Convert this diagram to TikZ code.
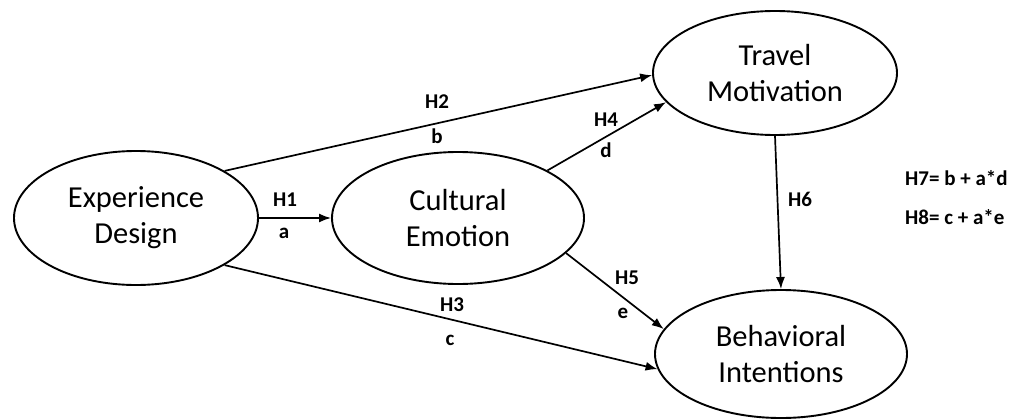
\documentclass[tikz,border=0pt]{standalone}
\usepackage{fontspec}
\setmainfont{Carlito}
\usetikzlibrary{shapes.geometric,arrows.meta}
\begin{document}
\begin{tikzpicture}[x=1pt,y=-1pt,
  construct/.style={ellipse,draw,line width=1.9pt,inner sep=0pt,
    minimum width=#1,align=center,font=\fontsize{30.5}{36}\selectfont},
  construct/.default=246pt,
  path/.style={line width=1.7pt,-{Latex[length=12pt,width=9pt]}},
  lbl/.style={font=\fontsize{21}{25}\selectfont\bfseries,inner sep=0pt}]
\useasboundingbox (0,0) rectangle (1022,420);

% latent constructs
\node[construct=244pt,minimum height=134pt] (exp) at (136,218) {Experience\\Design};
\node[construct=252pt,minimum height=132pt] (ce)  at (458,218) {Cultural\\Emotion};
\node[construct=244pt,minimum height=124pt] (tm)  at (775,73)  {Travel\\Motivation};
\node[construct=252pt,minimum height=128pt] (bi)  at (781,354) {Behavioral\\Intentions};

% hypothesised paths
\draw[path] (exp.east) -- (ce.west);
\draw[path] (exp.28)   -- (tm.181);
\draw[path] (exp.332)  -- (bi.187);
\draw[path] (ce.28)    -- (tm.195);
\draw[path] (ce.342)   -- (bi.168);
\draw[path] (tm.south) -- (bi.north);

% path labels
\node[lbl] (h1) at (285,200) {H1};
\node[lbl] (la) at (284,233) {a};
\node[lbl] (h2) at (437,102) {H2};
\node[lbl] (lb) at (437,136) {b};
\node[lbl] (h3) at (452,305) {H3};
\node[lbl] (lc) at (450,340) {c};
\node[lbl] (h4) at (606,120) {H4};
\node[lbl] (ld) at (606,150) {d};
\node[lbl] (h5) at (627,278) {H5};
\node[lbl] (le) at (623,313) {e};
\node[lbl] (h6) at (800,199) {H6};

% indirect-effect hypotheses
\node[lbl,anchor=west] (h7) at (905,178) {H7= b + a*d};
\node[lbl,anchor=west] (h8) at (905,217) {H8= c + a*e};
\end{tikzpicture}
\end{document}
